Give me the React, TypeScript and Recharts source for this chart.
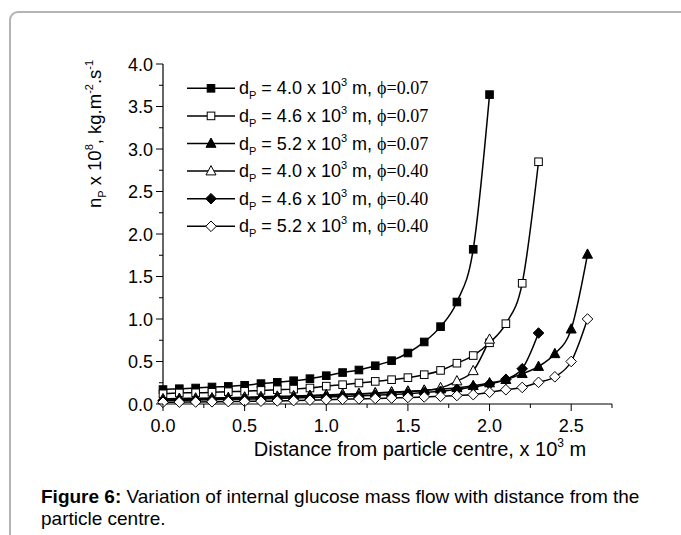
import React from "react";
import { LineChart, Line, XAxis, YAxis, Legend } from "recharts";

// distance from particle centre, x 10^3 m
const distTo20 = [0.0, 0.1, 0.2, 0.3, 0.4, 0.5, 0.6, 0.7, 0.8, 0.9, 1.0, 1.1, 1.2, 1.3, 1.4, 1.5, 1.6, 1.7, 1.8, 1.9, 2.0];
const distTo23 = [0.0, 0.1, 0.2, 0.3, 0.4, 0.5, 0.6, 0.7, 0.8, 0.9, 1.0, 1.1, 1.2, 1.3, 1.4, 1.5, 1.6, 1.7, 1.8, 1.9, 2.0, 2.1, 2.2, 2.3];
const distTo26 = [0.0, 0.1, 0.2, 0.3, 0.4, 0.5, 0.6, 0.7, 0.8, 0.9, 1.0, 1.1, 1.2, 1.3, 1.4, 1.5, 1.6, 1.7, 1.8, 1.9, 2.0, 2.1, 2.2, 2.3, 2.4, 2.5, 2.6];

// n_P x 10^8 kg.m-2.s-1
const d40phi007 = [0.17, 0.18, 0.188, 0.2, 0.207, 0.22, 0.24, 0.255, 0.274, 0.298, 0.333, 0.37, 0.4, 0.45, 0.51, 0.6, 0.73, 0.91, 1.2, 1.82, 3.64];
const d46phi007 = [0.12, 0.13, 0.132, 0.138, 0.145, 0.15, 0.16, 0.168, 0.175, 0.188, 0.21, 0.227, 0.247, 0.266, 0.286, 0.31, 0.345, 0.395, 0.48, 0.57, 0.72, 0.945, 1.42, 2.85];
const d52phi007 = [0.06, 0.065, 0.068, 0.07, 0.075, 0.08, 0.085, 0.09, 0.095, 0.1, 0.108, 0.115, 0.12, 0.13, 0.14, 0.15, 0.16, 0.175, 0.19, 0.215, 0.247, 0.286, 0.356, 0.44, 0.59, 0.88, 1.76];
const d40phi040 = [0.05, 0.055, 0.058, 0.062, 0.066, 0.07, 0.075, 0.08, 0.086, 0.092, 0.1, 0.108, 0.116, 0.125, 0.135, 0.145, 0.16, 0.19, 0.27, 0.39, 0.76];
const d46phi040 = [0.04, 0.043, 0.046, 0.05, 0.053, 0.057, 0.06, 0.065, 0.07, 0.075, 0.082, 0.088, 0.095, 0.103, 0.112, 0.122, 0.135, 0.15, 0.17, 0.2, 0.235, 0.29, 0.415, 0.835];
const d52phi040 = [0.02, 0.022, 0.024, 0.026, 0.028, 0.03, 0.033, 0.036, 0.04, 0.045, 0.05, 0.055, 0.06, 0.065, 0.07, 0.077, 0.083, 0.09, 0.1, 0.11, 0.137, 0.168, 0.195, 0.255, 0.32, 0.5, 1.0];

const legendDiam = ["4.0", "4.6", "5.2", "4.0", "4.6", "5.2"];
const legendPhi = ["0.07", "0.07", "0.07", "0.40", "0.40", "0.40"];

const xTicks = [0, 0.25, 0.5, 0.75, 1.0, 1.25, 1.5, 1.75, 2.0, 2.25, 2.5, 2.75];
const yTicks = [0, 0.25, 0.5, 0.75, 1.0, 1.25, 1.5, 1.75, 2.0, 2.25, 2.5, 2.75, 3.0, 3.25, 3.5, 3.75, 4.0];

const FONT = "'Liberation Sans', Arial, sans-serif";
const SERIF = "'Liberation Serif', 'Times New Roman', serif";

type Shape = "square" | "triangle" | "diamond";

const series = [
  { key: "s1", dist: distTo20, vals: d40phi007, shape: "square" as Shape, filled: true },
  { key: "s2", dist: distTo23, vals: d46phi007, shape: "square" as Shape, filled: false },
  { key: "s3", dist: distTo26, vals: d52phi007, shape: "triangle" as Shape, filled: true },
  { key: "s4", dist: distTo20, vals: d40phi040, shape: "triangle" as Shape, filled: false },
  { key: "s5", dist: distTo23, vals: d46phi040, shape: "diamond" as Shape, filled: true },
  { key: "s6", dist: distTo26, vals: d52phi040, shape: "diamond" as Shape, filled: false },
];

function Marker({ cx, cy, shape, filled }: { cx: number; cy: number; shape: Shape; filled: boolean }) {
  const fill = filled ? "#000" : "#fff";
  if (shape === "square") {
    return <rect x={cx - 3.8} y={cy - 3.8} width={7.6} height={7.6} fill={fill} stroke="#000" strokeWidth={1} />;
  }
  if (shape === "triangle") {
    return <polygon points={`${cx},${cy - 5.5} ${cx - 5},${cy + 3.8} ${cx + 5},${cy + 3.8}`} fill={fill} stroke="#000" strokeWidth={1} />;
  }
  return <polygon points={`${cx},${cy - 5.3} ${cx + 5.3},${cy} ${cx},${cy + 5.3} ${cx - 5.3},${cy}`} fill={fill} stroke="#000" strokeWidth={1} />;
}

const XTick = (props: any) => {
  const { x, y, payload } = props;
  const v = payload.value;
  const major = Math.abs(v * 2 - Math.round(v * 2)) < 1e-6;
  return (
    <g>
      <line x1={x} y1={y} x2={x} y2={y + (major ? 7 : 4)} stroke="#000" strokeWidth={1} />
      {major && (
        <text x={x} y={y + 28} textAnchor="middle" fontSize={18} fontFamily={FONT} fill="#000">
          {v.toFixed(1)}
        </text>
      )}
    </g>
  );
};

const YTick = (props: any) => {
  const { x, y, payload } = props;
  const v = payload.value;
  const major = Math.abs(v * 2 - Math.round(v * 2)) < 1e-6;
  return (
    <g>
      <line x1={x} y1={y} x2={x - (major ? 7 : 4)} y2={y} stroke="#000" strokeWidth={1} />
      {major && (
        <text x={x - 10} y={y + 6.5} textAnchor="end" fontSize={18} fontFamily={FONT} fill="#000">
          {v.toFixed(1)}
        </text>
      )}
    </g>
  );
};

const YTitle = () => (
  <text transform="translate(101,134) rotate(-90)" textAnchor="middle" fontSize={18.5} fontFamily={FONT} fill="#000">
    <tspan>n</tspan>
    <tspan dy={5} fontSize={11}>P</tspan>
    <tspan dy={-5}> x 10</tspan>
    <tspan dy={-8} fontSize={11}>8</tspan>
    <tspan dy={8}>, kg.m</tspan>
    <tspan dy={-8} fontSize={11}>-2</tspan>
    <tspan dy={8}>.s</tspan>
    <tspan dy={-8} fontSize={11}>-1</tspan>
  </text>
);

const XTitle = () => (
  <text x={420} y={456} textAnchor="middle" fontSize={20} fontFamily={FONT} fill="#000">
    <tspan>Distance from particle centre, x 10</tspan>
    <tspan dy={-9} fontSize={12}>3</tspan>
    <tspan dy={9}> m</tspan>
  </text>
);

const LegendBox = () => (
  <svg width={270} height={170} style={{ display: "block" }}>
    {series.map((s, i) => {
      const cy = 16.3 + i * 27.6;
      return (
        <g key={s.key}>
          <line x1={7} y1={cy} x2={55} y2={cy} stroke="#000" strokeWidth={1.5} />
          <Marker cx={31} cy={cy} shape={s.shape} filled={s.filled} />
          <text x={59} y={cy + 6} fontSize={18} fontFamily={FONT} fill="#000">
            <tspan>d</tspan>
            <tspan dy={5} fontSize={11}>P</tspan>
            <tspan dy={-5}>{` = ${legendDiam[i]} x 10`}</tspan>
            <tspan dy={-8} fontSize={11}>3</tspan>
            <tspan dy={8}>{" m, "}</tspan>
            <tspan fontFamily={SERIF}>{`\u03D5=${legendPhi[i]}`}</tspan>
          </text>
        </g>
      );
    })}
  </svg>
);

export default function App() {
  return (
    <div style={{ position: "absolute", left: 0, top: 0, width: 681, height: 535, background: "#fff", overflow: "hidden" }}>
      <div
        style={{
          position: "absolute", left: 9, top: 11, width: 690, height: 540,
          borderTop: "2px solid #b4b4b4", borderLeft: "2px solid #b4b4b4", borderTopLeftRadius: 9,
        }}
      />
      <div style={{ position: "absolute", left: 0, top: 0 }}>
        <LineChart width={681} height={460} margin={{ top: 64, right: 69, bottom: 0, left: 0 }}>
          <XAxis
            type="number" dataKey="x" domain={[0, 2.75]} ticks={xTicks} interval={0}
            tick={<XTick />} tickLine={false} tickSize={0} tickMargin={0} height={56}
            axisLine={{ stroke: "#000", strokeWidth: 1.2 }}
            label={{ content: () => <XTitle /> }}
          />
          <YAxis
            type="number" domain={[0, 4]} ticks={yTicks} interval={0}
            tick={<YTick />} tickLine={false} tickSize={0} tickMargin={0} width={163}
            axisLine={{ stroke: "#000", strokeWidth: 1.2 }}
            label={{ content: () => <YTitle /> }}
          />
          <Legend
            layout="vertical" align="center" verticalAlign="middle"
            content={() => <LegendBox />}
            wrapperStyle={{ position: "absolute", left: 180, top: 72, width: 270, height: 170 }}
          />
          {series.map((s) => (
            <Line
              key={s.key}
              data={s.dist.map((x, i) => ({ x, y: s.vals[i] }))}
              dataKey="y"
              type="monotone"
              stroke="#000"
              strokeWidth={1.5}
              isAnimationActive={false}
              dot={(p: any) => <Marker key={`${s.key}-${p.index}`} cx={p.cx} cy={p.cy} shape={s.shape} filled={s.filled} />}
              activeDot={false}
            />
          ))}
        </LineChart>
      </div>
      <div
        style={{
          position: "absolute", left: 41, top: 486, width: 620, fontSize: 19, lineHeight: "22px",
          fontFamily: FONT, color: "#000",
        }}
      >
        <b>Figure 6:</b> Variation of internal glucose mass flow with distance from the particle centre.
      </div>
    </div>
  );
}
